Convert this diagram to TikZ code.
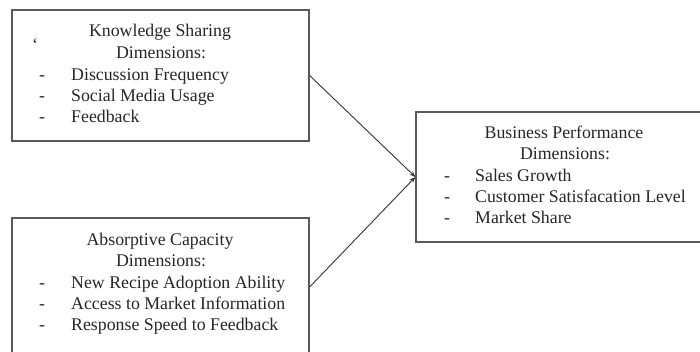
\documentclass[tikz,border=0pt]{standalone}
\usepackage{fontspec}
\setmainfont{Liberation Serif}
\usetikzlibrary{arrows.meta}
\begin{document}
\begin{tikzpicture}[x=1pt,y=-1pt,
  dimbox/.style={draw=black!65, line width=1.2pt, inner sep=0pt, fill=none},
  txt/.style={inner sep=0pt, font=\fontsize{17.8}{20}\selectfont, text=black!85},
  title/.style={txt, anchor=mid},
  dashmark/.style={txt, anchor=mid west},
  item/.style={txt, anchor=mid west},
  link/.style={draw=black!80, line width=0.9pt, -{Stealth[length=6pt,width=4.5pt]}}]
  \useasboundingbox (0,0) rectangle (700,352);
  \clip (0,0) rectangle (700,352);

  % three boxes (the second and third run past the page edge)
  \node[dimbox, minimum width=297pt, minimum height=131pt] (ks) at (160.5,75.5) {};
  \node[dimbox, minimum width=297pt, minimum height=138pt] (ac) at (160.5,287) {};
  \node[dimbox, minimum width=304pt, minimum height=130pt] (bp) at (568,177) {};

  % knowledge sharing
  \node[txt, anchor=mid] (tick) at (35,48) {\char"60};
  \node[title] (ks1) at (160,34) {Knowledge Sharing};
  \node[title] (ks2) at (161,56) {Dimensions:};
  \node[dashmark] (ksd1) at (39,78) {-};
  \node[dashmark] (ksd2) at (39,99) {-};
  \node[dashmark] (ksd3) at (39,120) {-};
  \node[item] (ksi1) at (71,78) {Discussion Frequency};
  \node[item] (ksi2) at (71,99) {Social Media Usage};
  \node[item] (ksi3) at (71,120) {Feedback};

  % absorptive capacity
  \node[title] (ac1) at (160,243) {Absorptive Capacity};
  \node[title] (ac2) at (161,264) {Dimensions:};
  \node[dashmark] (acd1) at (39,286) {-};
  \node[dashmark] (acd2) at (39,307) {-};
  \node[dashmark] (acd3) at (39,328) {-};
  \node[item] (aci1) at (71,286) {New Recipe Adoption Ability};
  \node[item] (aci2) at (71,307) {Access to Market Information};
  \node[item] (aci3) at (71,328) {Response Speed to Feedback};

  % business performance
  \node[title] (bp1) at (564,136) {Business Performance};
  \node[title] (bp2) at (565,157) {Dimensions:};
  \node[dashmark] (bpd1) at (444,179) {-};
  \node[dashmark] (bpd2) at (444,200) {-};
  \node[dashmark] (bpd3) at (444,221) {-};
  \node[item] (bpi1) at (475,179) {Sales Growth};
  \node[item] (bpi2) at (475,200) {Customer Satisfacation Level};
  \node[item] (bpi3) at (475,221) {Market Share};

  % links
  \draw[link] (ks.east) -- (bp.west);
  \draw[link] (ac.east) -- (bp.west);
\end{tikzpicture}
\end{document}
